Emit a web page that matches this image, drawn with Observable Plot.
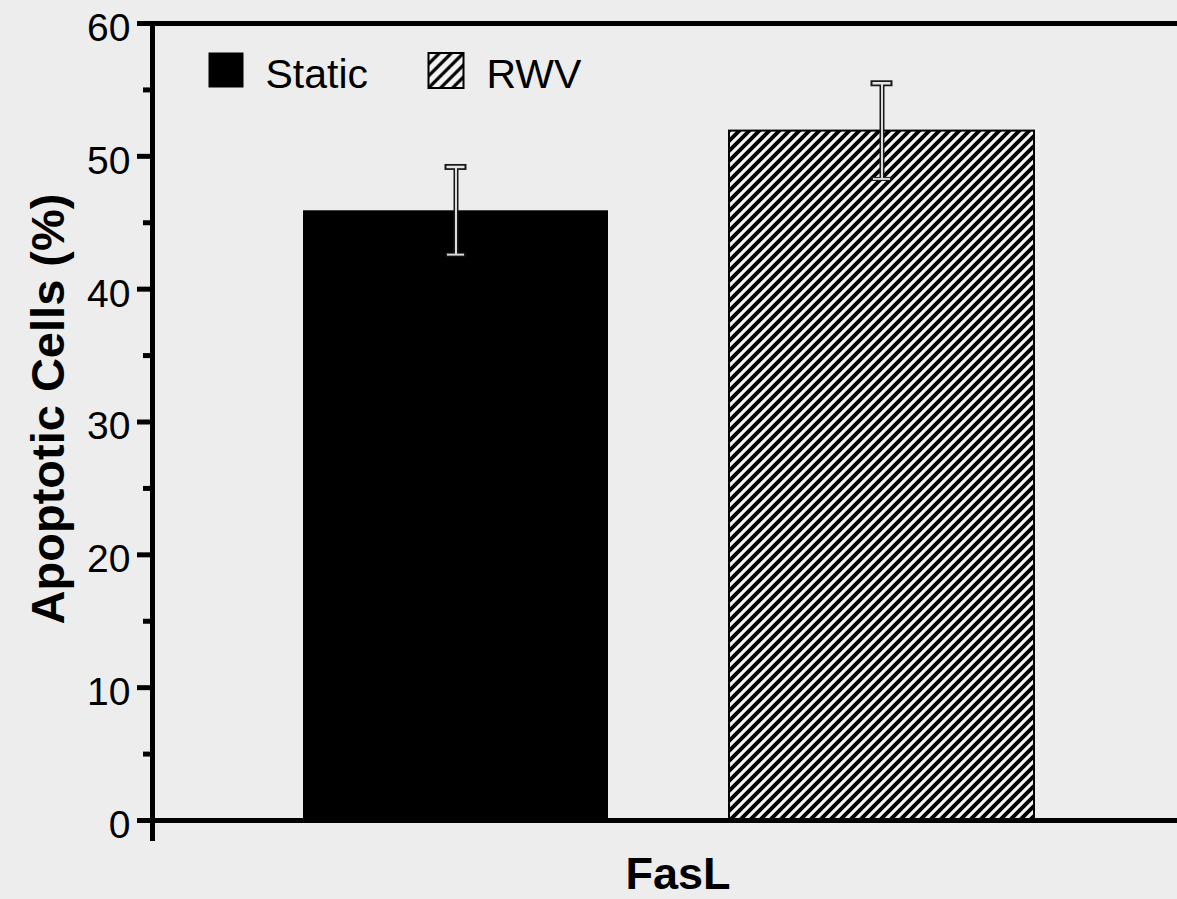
<!DOCTYPE html>
<html>
<head>
<meta charset="utf-8">
<script src="https://cdn.jsdelivr.net/npm/d3@7"></script>
<script src="https://cdn.jsdelivr.net/npm/@observablehq/plot@0.6"></script>
<style>
  html, body { margin: 0; padding: 0; background: #ededed; }
</style>
</head>
<body>
<div id="chart"></div>
<script>
const groups = ["Static", "RWV"];
const means = [45.9, 51.9];
const errors = [3.3, 3.6];
const yTicks = [0, 10, 20, 30, 40, 50, 60];
const yMinorTicks = [5, 15, 25, 35, 45, 55];
const legendLabels = ["Static", "RWV"];
const xLabel = ["FasL"];
const yLabel = ["Apoptotic Cells (%)"];

const data = groups.map((g, i) => ({group: g, mean: means[i], lo: means[i] - errors[i], hi: means[i] + errors[i]}));
const staticData = data.filter(d => d.group === "Static");
const rwvData = data.filter(d => d.group === "RWV");

function defs() {
  const d = d3.create("svg:defs");
  const mk = (id, s, w) => {
    const p = d.append("pattern").attr("id", id).attr("patternUnits", "userSpaceOnUse")
      .attr("width", s).attr("height", s);
    p.append("rect").attr("width", s).attr("height", s).attr("fill", "#f3f3f3");
    const q = s / 4;
    p.append("path")
      .attr("d", `M${-q},${q} L${q},${-q} M0,${s} L${s},0 M${s - q},${s + q} L${s + q},${s - q}`)
      .attr("stroke", "black").attr("stroke-width", w);
  };
  mk("hatch", 10, 3.9);
  mk("hatchLegend", 12, 3.2);
  return d.node();
}

const frameW = 1177 - 152;

const chart = Plot.plot({
  width: 1177,
  height: 899,
  marginLeft: 152,
  marginRight: 0,
  marginTop: 23,
  marginBottom: 79,
  style: {background: "#ededed", fontFamily: "'Liberation Sans', Arial, sans-serif", color: "black"},
  x: {type: "band", domain: groups, paddingInner: 0.284, paddingOuter: 0.345, align: 0.514, axis: null},
  y: {domain: [0, 60]},
  marks: [
    defs,
    Plot.barY(staticData, {x: "group", y: "mean", fill: "black"}),
    Plot.barY(rwvData, {x: "group", y: "mean", fill: "url(#hatch)", stroke: "black", strokeWidth: 2}),
    // error bars: dark outline then light core
    Plot.ruleX(data, {x: "group", y1: "lo", y2: "hi", stroke: "#1a1a1a", strokeWidth: 5}),
    Plot.tickY(data, {x: "group", y: "hi", insetLeft: 141.5, insetRight: 141.5, stroke: "#1a1a1a", strokeWidth: 6}),
    Plot.tickY(data, {x: "group", y: "lo", insetLeft: 142.5, insetRight: 142.5, stroke: "#1a1a1a", strokeWidth: 4}),
    Plot.ruleX(data, {x: "group", y1: "lo", y2: "hi", stroke: "#dcdcdc", strokeWidth: 2}),
    Plot.tickY(data, {x: "group", y: "hi", insetLeft: 143.5, insetRight: 143.5, stroke: "#e4e4e4", strokeWidth: 2.5}),
    Plot.tickY(data, {x: "group", y: "lo", insetLeft: 144, insetRight: 144, stroke: "#d8d8d8", strokeWidth: 2}),
    // axes
    Plot.ruleY([0, 60], {stroke: "black", strokeWidth: 5}),
    Plot.frame({anchor: "left", stroke: "black", strokeWidth: 5, insetBottom: -18}),
    Plot.ruleY(yTicks, {y: d => d, insetLeft: -15, insetRight: frameW, stroke: "black", strokeWidth: 5}),
    Plot.ruleY(yMinorTicks, {y: d => d, insetLeft: -9, insetRight: frameW, stroke: "black", strokeWidth: 5}),
    Plot.axisY(yTicks, {tickSize: 0, tickPadding: 22, fontSize: 39, dy: 5, fill: "black", label: null}),
    // axis titles
    Plot.text(yLabel, {frameAnchor: "left", rotate: -90, textAnchor: "middle", lineAnchor: "middle",
      dx: -103.5, dy: -13, fontSize: 47, fontWeight: "bold", fill: "black"}),
    Plot.text(xLabel, {frameAnchor: "bottom", textAnchor: "middle", lineAnchor: "middle",
      dx: 13, dy: 54, fontSize: 45, fontWeight: "bold", fill: "black"}),
    // legend
    Plot.dot([legendLabels[0]], {frameAnchor: "top-left", dx: 73.5, dy: 46.5, symbol: "square", r: 19.75, fill: "black", stroke: "none"}),
    Plot.dot([legendLabels[1]], {frameAnchor: "top-left", dx: 293.5, dy: 47, symbol: "square", r: 19.75, fill: "url(#hatchLegend)", stroke: "black", strokeWidth: 2}),
    Plot.text([legendLabels[0]], {frameAnchor: "top-left", textAnchor: "start", lineAnchor: "middle", dx: 113, dy: 51, fontSize: 41, fill: "black"}),
    Plot.text([legendLabels[1]], {frameAnchor: "top-left", textAnchor: "start", lineAnchor: "middle", dx: 334, dy: 51, fontSize: 41, fill: "black"})
  ]
});
document.getElementById("chart").appendChild(chart);
</script>
</body>
</html>
